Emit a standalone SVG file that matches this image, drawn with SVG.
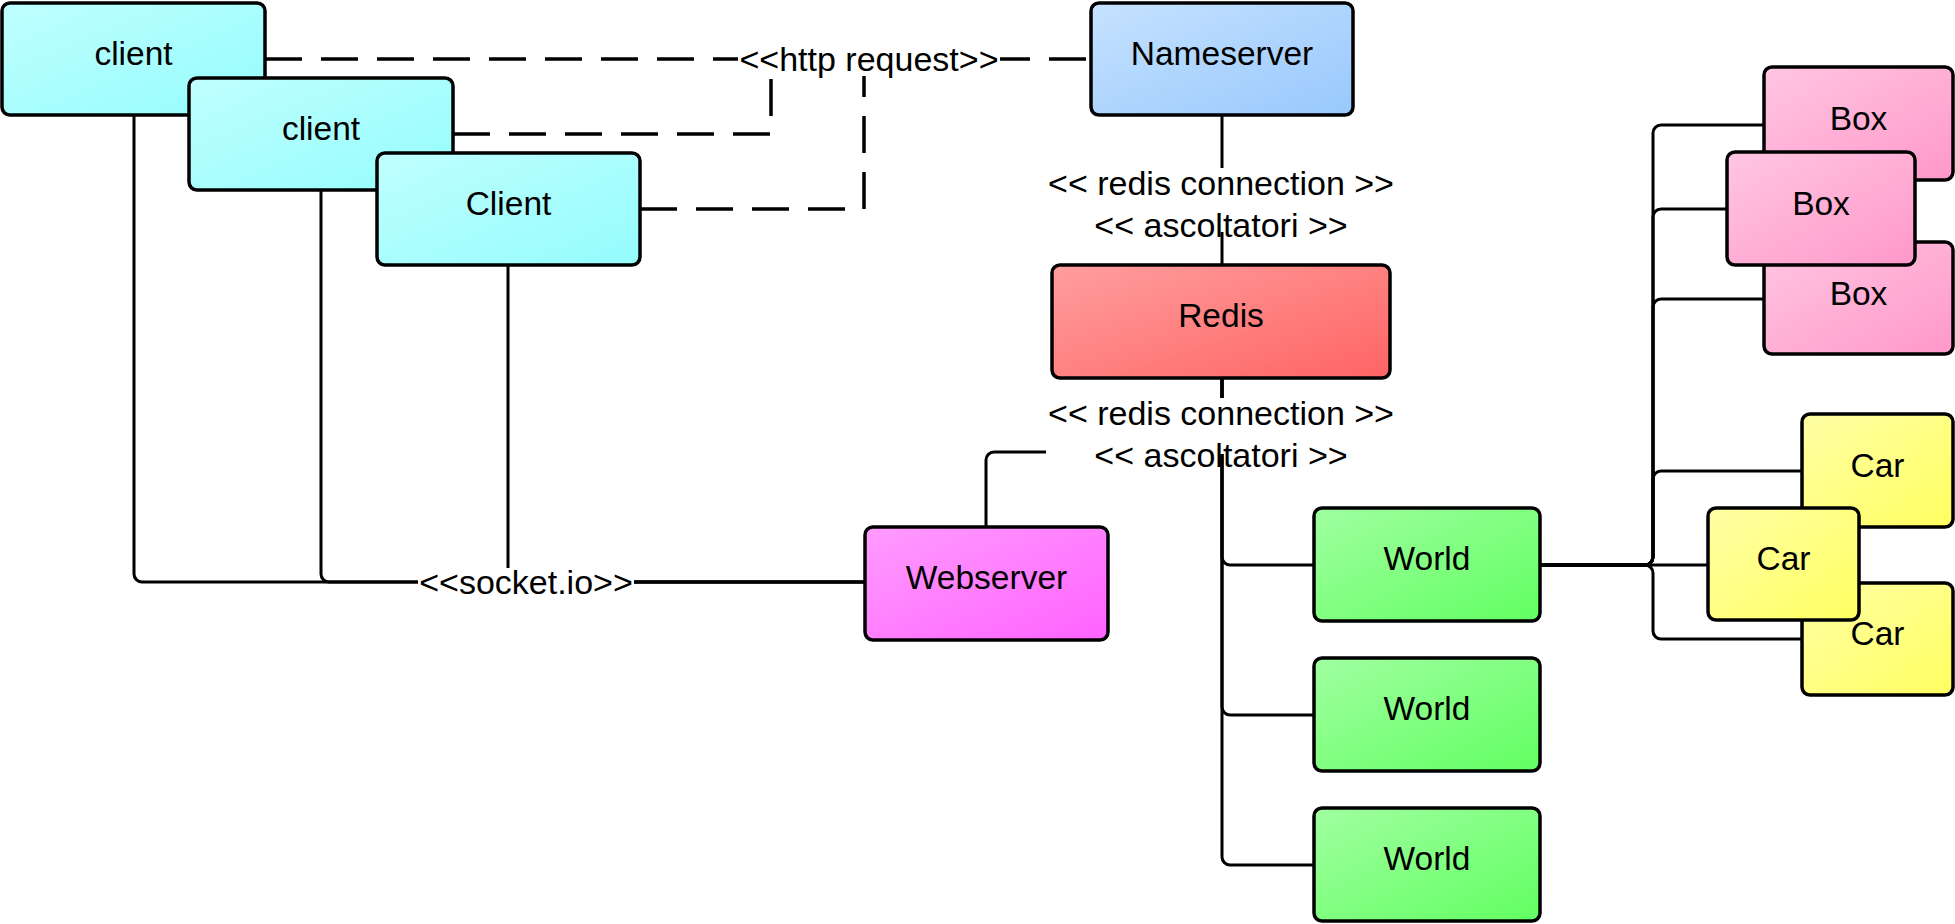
<svg xmlns="http://www.w3.org/2000/svg" width="1955" height="924" viewBox="0 0 1955 924">
<defs>
<linearGradient id="gClient" x1="0" y1="0" x2="1" y2="1"><stop offset="0" stop-color="#c0ffff"/><stop offset="1" stop-color="#94fcfc"/></linearGradient>
<linearGradient id="gName" x1="0" y1="0" x2="1" y2="1"><stop offset="0" stop-color="#c6e2ff"/><stop offset="1" stop-color="#98c8fc"/></linearGradient>
<linearGradient id="gRedis" x1="0" y1="0" x2="1" y2="1"><stop offset="0" stop-color="#ff9e9e"/><stop offset="1" stop-color="#ff6464"/></linearGradient>
<linearGradient id="gWeb" x1="0" y1="0" x2="1" y2="1"><stop offset="0" stop-color="#ff9cff"/><stop offset="1" stop-color="#ff62ff"/></linearGradient>
<linearGradient id="gWorld" x1="0" y1="0" x2="1" y2="1"><stop offset="0" stop-color="#a0ffa0"/><stop offset="1" stop-color="#62ff62"/></linearGradient>
<linearGradient id="gBox" x1="0" y1="0" x2="1" y2="1"><stop offset="0" stop-color="#ffc6e2"/><stop offset="1" stop-color="#ff98ca"/></linearGradient>
<linearGradient id="gCar" x1="0" y1="0" x2="1" y2="1"><stop offset="0" stop-color="#ffffa6"/><stop offset="1" stop-color="#ffff60"/></linearGradient>
</defs>
<style>
.node rect{stroke:#000;stroke-width:3.5}
.node text{font-family:"Liberation Sans",Arial,sans-serif;font-size:33.5px;text-anchor:middle;fill:#000}
.line{fill:none;stroke:#000;stroke-width:3}
.dash{fill:none;stroke:#000;stroke-width:3.5;stroke-dasharray:37 19}
.mask{fill:#fff}
.lbl{font-family:"Liberation Sans",Arial,sans-serif;font-size:34px;text-anchor:middle;fill:#000}
</style>
<rect width="1955" height="924" fill="#fff"/>
<g id="connectors">
<path class="dash" d="M265 59 H1091"/>
<path class="dash" d="M453 134 H771 V70"/>
<path class="dash" d="M640 209 H864 V70"/>
<path class="line" d="M134 115 V574 A8 8 0 0 0 142 582 H865"/>
<path class="line" d="M321 190 V574 A8 8 0 0 0 329 582 H865"/>
<path class="line" d="M508 265 V582 H865"/>
<path class="line" d="M1222 115 V265"/>
<path class="line" d="M986 527 V460 A8 8 0 0 1 994 452 H1222 V378"/>
<path class="line" d="M1222 378 V557 A8 8 0 0 0 1230 565 H1314"/>
<path class="line" d="M1222 378 V707 A8 8 0 0 0 1230 715 H1314"/>
<path class="line" d="M1222 378 V857 A8 8 0 0 0 1230 865 H1314"/>
<path class="line" d="M1540 565 H1645 A8 8 0 0 0 1653 557 V133 A8 8 0 0 1 1661 125 H1764"/>
<path class="line" d="M1540 565 H1645 A8 8 0 0 0 1653 557 V217 A8 8 0 0 1 1661 209 H1727"/>
<path class="line" d="M1540 565 H1645 A8 8 0 0 0 1653 557 V307 A8 8 0 0 1 1661 299 H1764"/>
<path class="line" d="M1540 565 H1645 A8 8 0 0 0 1653 557 V479 A8 8 0 0 1 1661 471 H1802"/>
<path class="line" d="M1540 565 H1708"/>
<path class="line" d="M1540 565 H1645 A8 8 0 0 1 1653 573 V631 A8 8 0 0 0 1661 639 H1802"/>
<rect class="mask" x="738" y="40" width="262" height="36"/>
<text class="lbl" x="869" y="71">&lt;&lt;http request&gt;&gt;</text>
<rect class="mask" x="418" y="568" width="216" height="32"/>
<text class="lbl" x="526" y="594">&lt;&lt;socket.io&gt;&gt;</text>
<rect class="mask" x="1046" y="168" width="350" height="64"/>
<text class="lbl" x="1221" y="195">&lt;&lt; redis connection &gt;&gt;</text>
<text class="lbl" x="1221" y="237">&lt;&lt; ascoltatori &gt;&gt;</text>
<rect class="mask" x="1046" y="398" width="350" height="56"/>
<text class="lbl" x="1221" y="425">&lt;&lt; redis connection &gt;&gt;</text>
<text class="lbl" x="1221" y="467">&lt;&lt; ascoltatori &gt;&gt;</text>
</g>
<g id="client1" class="node"><rect x="2" y="3" width="263" height="112" rx="8" fill="url(#gClient)"/><text x="133.5" y="65">client</text></g>
<g id="client2" class="node"><rect x="189" y="78" width="264" height="112" rx="8" fill="url(#gClient)"/><text x="321" y="140">client</text></g>
<g id="client3" class="node"><rect x="377" y="153" width="263" height="112" rx="8" fill="url(#gClient)"/><text x="508.5" y="215">Client</text></g>
<g id="nameserver" class="node"><rect x="1091" y="3" width="262" height="112" rx="8" fill="url(#gName)"/><text x="1222" y="65">Nameserver</text></g>
<g id="redis" class="node"><rect x="1052" y="265" width="338" height="113" rx="8" fill="url(#gRedis)"/><text x="1221" y="327">Redis</text></g>
<g id="webserver" class="node"><rect x="865" y="527" width="243" height="113" rx="8" fill="url(#gWeb)"/><text x="986.5" y="589">Webserver</text></g>
<g id="world1" class="node"><rect x="1314" y="508" width="226" height="113" rx="8" fill="url(#gWorld)"/><text x="1427" y="570">World</text></g>
<g id="world2" class="node"><rect x="1314" y="658" width="226" height="113" rx="8" fill="url(#gWorld)"/><text x="1427" y="720">World</text></g>
<g id="world3" class="node"><rect x="1314" y="808" width="226" height="113" rx="8" fill="url(#gWorld)"/><text x="1427" y="870">World</text></g>
<g id="box1" class="node"><rect x="1764" y="67" width="189" height="113" rx="8" fill="url(#gBox)"/><text x="1858.5" y="130">Box</text></g>
<g id="box3" class="node"><rect x="1764" y="242" width="189" height="112" rx="8" fill="url(#gBox)"/><text x="1858.5" y="305">Box</text></g>
<g id="box2" class="node"><rect x="1727" y="152" width="188" height="113" rx="8" fill="url(#gBox)"/><text x="1821" y="215">Box</text></g>
<g id="car1" class="node"><rect x="1802" y="414" width="151" height="113" rx="8" fill="url(#gCar)"/><text x="1877.5" y="477">Car</text></g>
<g id="car3" class="node"><rect x="1802" y="583" width="151" height="112" rx="8" fill="url(#gCar)"/><text x="1877.5" y="645">Car</text></g>
<g id="car2" class="node"><rect x="1708" y="508" width="151" height="112" rx="8" fill="url(#gCar)"/><text x="1783.5" y="570">Car</text></g>
</svg>
